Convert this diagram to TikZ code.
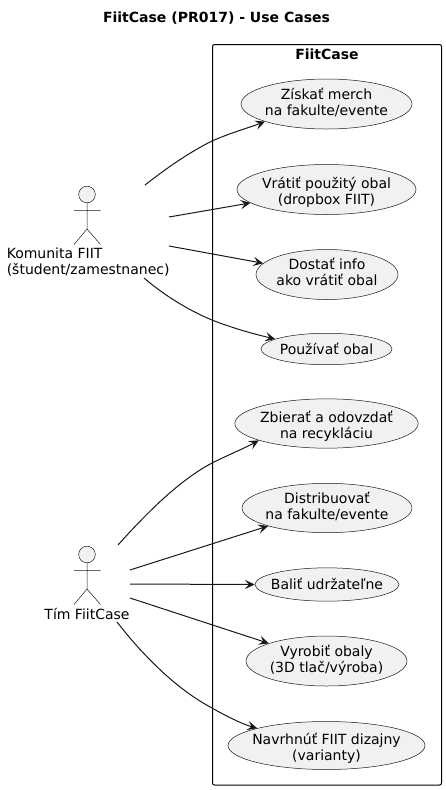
\documentclass[tikz,border=0pt]{standalone}
\usepackage{fontspec}
\setmainfont{DejaVu Sans}
\usetikzlibrary{shapes.geometric,arrows.meta}
\definecolor{umlline}{HTML}{181818}
\definecolor{umlfill}{HTML}{F1F1F1}
\newcommand\ucTwo[3]{\raisebox{#1}[\height][\depth]{\begin{tabular}{@{}c@{}}\smash{#2}\\\smash{#3}\end{tabular}}}
\newcommand\ucOne[2]{\raisebox{#1}[\height][\depth]{\begin{tabular}{@{}c@{}}\smash{#2}\end{tabular}}}
\tikzset{
  x=0.75pt,y=-0.75pt,
  usecase/.style={ellipse,draw=umlline,fill=umlfill,line width=0.375pt,inner sep=-12pt,font=\fontsize{10.5}{12}\selectfont,text=black},
  head/.style={circle,draw=umlline,fill=umlfill,line width=0.375pt,minimum size=12.5pt,inner sep=0pt},
  limb/.style={draw=umlline,line width=0.375pt},
  frameb/.style={draw=black,line width=0.75pt,rounded corners=1.5pt},
  lbl/.style={font=\fontsize{10.5}{12}\selectfont,align=left,inner sep=0pt,text=black},
  link/.style={draw=umlline,line width=0.75pt,-{Stealth[length=7.5pt,width=7pt,inset=3.2pt]}},
}
\begin{document}
\begin{tikzpicture}
\useasboundingbox (0,0) rectangle (446,790);
\node[font=\bfseries\fontsize{10.5}{12}\selectfont,inner sep=0pt] (title) at (216.5,18) {FiitCase (PR017) - Use Cases};
\path[frameb] (212.5,44.5) rectangle (441.5,785);
\node[font=\bfseries\fontsize{10.5}{12}\selectfont,inner sep=0pt] (sys) at (327,54) {FiitCase};

\node[usecase,minimum width=128.25pt,minimum height=37.5pt] (u1) at (326.5,104) {\ucTwo{0pt}{Získať merch}{na fakulte/evente}};
\node[usecase,minimum width=134.25pt,minimum height=37.5pt] (u2) at (326.5,189.5) {\ucTwo{-2.8pt}{Vrátiť použitý obal}{(dropbox FIIT)}};
\node[usecase,minimum width=106.5pt,minimum height=37.5pt] (u3) at (327,274.5) {\ucTwo{0.3pt}{Dostať info}{ako vrátiť obal}};
\node[usecase,minimum width=98.25pt,minimum height=23.6pt] (u4) at (326.5,349) {\ucOne{-1.5pt}{Používať obal}};
\node[usecase,minimum width=137.5pt,minimum height=37pt] (u5) at (326.5,423.5) {\ucTwo{-2.8pt}{Zbierať a odovzdať}{na recykláciu}};
\node[usecase,minimum width=127.5pt,minimum height=37pt] (u6) at (327,508) {\ucTwo{0pt}{Distribuovať}{na fakulte/evente}};
\node[usecase,minimum width=108pt,minimum height=25pt] (u7) at (327,584.5) {\ucOne{-1.4pt}{Baliť udržateľne}};
\node[usecase,minimum width=120.75pt,minimum height=37.5pt] (u8) at (326.5,661) {\ucTwo{0pt}{Vyrobiť obaly}{(3D tlač/výroba)}};
\node[usecase,minimum width=147.75pt,minimum height=36pt] (u9) at (326.5,745.5) {\ucTwo{-3pt}{Navrhnúť FIIT dizajny}{(varianty)}};

% actor 1
\node[head] (a1) at (87,194.5) {};
\path[limb] (a1.south) -- (87,229) (74,210.5) -- (100.5,210.5) (74,244.5) -- (87,229) -- (100.5,244.5);
\node[lbl,anchor=north west] (a1l) at (6.5,248) {Komunita FIIT\\(študent/zamestnanec)};
% actor 2
\node[head] (a2) at (87,554.5) {};
\path[limb] (a2.south) -- (87,589) (74,570.5) -- (100.5,570.5) (74,604.5) -- (87,589) -- (100.5,604.5);
\node[lbl,anchor=north] (a2l) at (87,608) {Tím FiitCase};

\coordinate (k1) at (145,185);
\coordinate (k2) at (169,217);
\coordinate (k3) at (169,246);
\coordinate (k4) at (144,278);
\coordinate (t1) at (118,545);
\coordinate (t2) at (130,570);
\coordinate (t3) at (130,584);
\coordinate (t4) at (130,598);
\coordinate (t5) at (117,622);

\path[link] (k1) .. controls (168,167) and (190,152) .. (212,141) .. controls (230,133) and (248,128) .. (u1.196.6);
\path[link] (k2) -- (u2.190.3);
\path[link] (k3) -- (u3.170.7);
\path[link] (k4) .. controls (165,296) and (190,311) .. (212,320) .. controls (232,328) and (254,334) .. (u4.169);
\path[link] (t1) .. controls (145,515) and (178,481) .. (212,463) .. controls (228,455) and (245,448) .. (u5.194.7);
\path[link] (t2) -- (u6.197);
\path[link] (t3) -- (u7.180);
\path[link] (t4) -- (u8.163.3);
\path[link] (t5) .. controls (145,658) and (178,690) .. (212,708) .. controls (226,716) and (242,724) .. (u9.166.8);
\end{tikzpicture}
\end{document}
